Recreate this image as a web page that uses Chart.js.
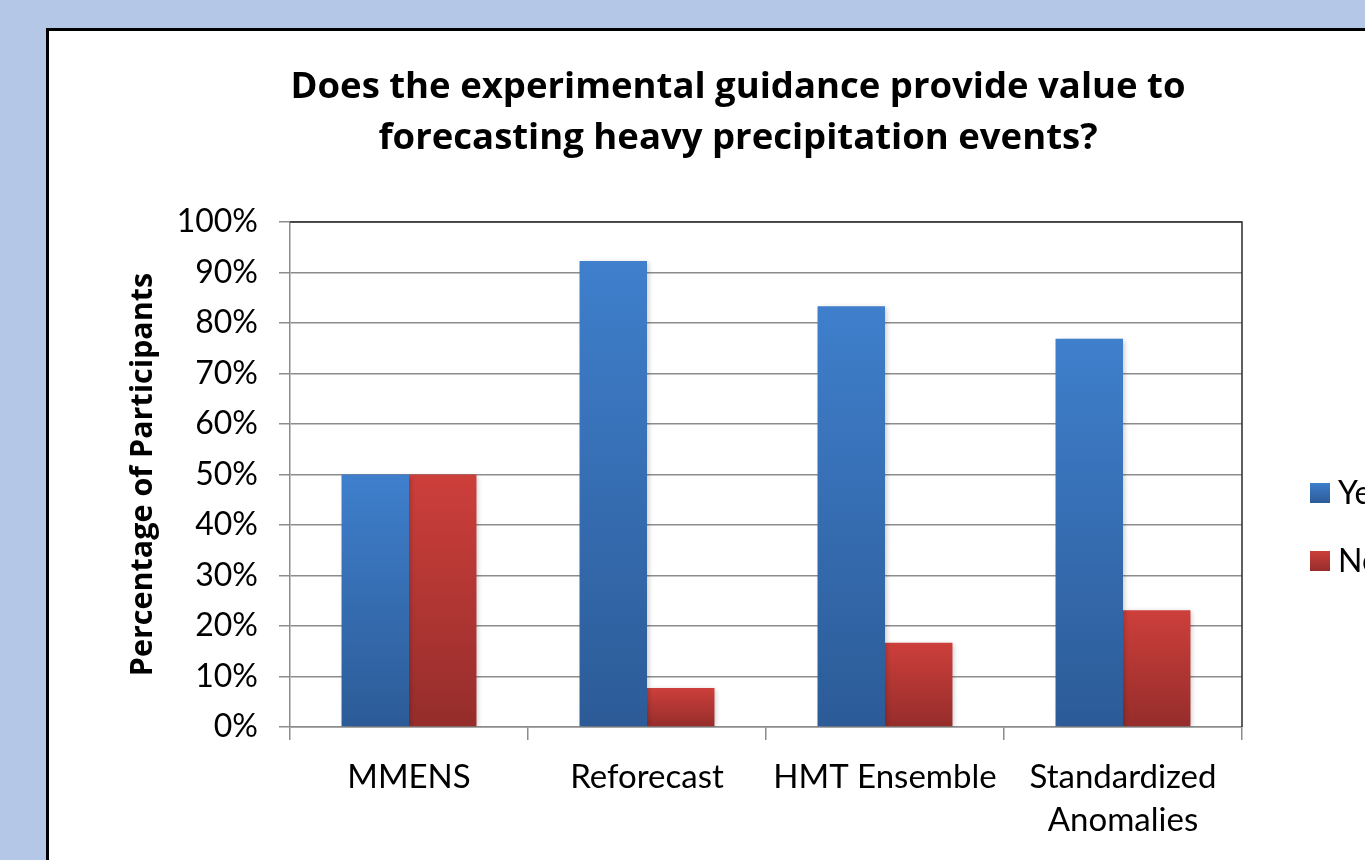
<!DOCTYPE html>
<html>
<head>
<meta charset="utf-8">
<title>Experimental guidance survey</title>
<script src="https://cdn.jsdelivr.net/npm/chart.js@4.4.1/dist/chart.umd.min.js"></script>
<style>
  html, body { margin: 0; padding: 0; }
  body {
    width: 1365px;
    height: 860px;
    overflow: hidden;
    background: #b4c7e7;
    position: relative;
  }
  #box {
    position: absolute;
    left: 46px;
    top: 28px;
    width: 1500px;
    height: 900px;
    border: 3px solid #000;
    background: #fff;
  }
  #surveyChart { display: block; }
</style>
</head>
<body>
<div id="box">
  <canvas id="surveyChart" width="1500" height="829"></canvas>
</div>
<script>
// Survey answers (percent of participants)
const categories = ['MMENS', 'Reforecast', 'HMT Ensemble', ['Standardized', 'Anomalies']];
const yesValues = [50, 92.3, 83.3, 76.9];
const noValues = [50, 7.7, 16.7, 23.1];
const yTicks = [0, 10, 20, 30, 40, 50, 60, 70, 80, 90, 100];
const titleLines = ['Does the experimental guidance provide value to',
                    'forecasting heavy precipitation events?'];

const FONT = 'Lato, Calibri, "Open Sans", sans-serif';
const BOLD_FONT = '"Open Sans", Calibri, Lato, sans-serif';

// gradient per bar, light at the top and dark at the base
function barGradient(top, bottom) {
    return (context) => {
        const chart = context.chart;
        if (!chart.chartArea || context.raw === undefined) return top;
        const y = chart.scales.y;
        const y0 = y.getPixelForValue(context.raw);
        const y1 = y.getPixelForValue(0);
        if (!isFinite(y0) || !isFinite(y1) || y0 === y1) return top;
        const g = chart.ctx.createLinearGradient(0, y0, 0, y1);
        g.addColorStop(0, top);
        g.addColorStop(1, bottom);
        return g;
    };
}

// chart title, centred a little left of the plot like the original
const chartTitle = {
    id: 'chartTitle',
    afterDraw(chart) {
        const ctx = chart.ctx;
        ctx.save();
        ctx.font = 'bold 36.5px ' + BOLD_FONT;
        ctx.fillStyle = '#000';
        ctx.textAlign = 'center';
        ctx.textBaseline = 'middle';
        titleLines.forEach((line, i) => {
            ctx.fillText(line, 689, 57 + i * 51);
        });
        ctx.restore();
    }
};

// soft shadow behind the bars
const barShadow = {
    id: 'barShadow',
    beforeDatasetsDraw(chart) {
        const ctx = chart.ctx;
        ctx.save();
        ctx.shadowColor = 'rgba(0, 0, 0, 0.22)';
        ctx.shadowBlur = 5;
        ctx.shadowOffsetX = 2;
        ctx.shadowOffsetY = 1;
    },
    afterDatasetsDraw(chart) {
        chart.ctx.restore();
    }
};

// dark top and right edge of the plot area
const plotFrame = {
    id: 'plotFrame',
    afterDatasetsDraw(chart) {
        const { ctx, chartArea: a } = chart;
        ctx.save();
        ctx.strokeStyle = '#2b2b2b';
        ctx.lineWidth = 1.5;
        ctx.beginPath();
        ctx.moveTo(a.left, a.top);
        ctx.lineTo(a.right, a.top);
        ctx.lineTo(a.right, a.bottom);
        ctx.stroke();
        ctx.restore();
    }
};

// legend on the right, drawn from the datasets
const sideLegend = {
    id: 'sideLegend',
    afterDraw(chart) {
        const ctx = chart.ctx;
        const x = 1261;
        const rows = [462, 530];
        ctx.save();
        ctx.font = '32px ' + FONT;
        ctx.textBaseline = 'middle';
        chart.data.datasets.forEach((ds, i) => {
            const cy = rows[i];
            const g = ctx.createLinearGradient(0, cy - 10, 0, cy + 10);
            g.addColorStop(0, ds.legendTop);
            g.addColorStop(1, ds.legendBottom);
            ctx.fillStyle = g;
            ctx.fillRect(x, cy - 10, 20, 20);
            ctx.fillStyle = '#000';
            ctx.fillText(ds.label, x + 28, cy + 1);
        });
        ctx.restore();
    }
};

const ctx = document.getElementById('surveyChart').getContext('2d');
const surveyChart = new Chart(ctx, {
    type: 'bar',
    data: {
        labels: categories,
        datasets: [{
            label: 'Yes',
            data: yesValues,
            backgroundColor: barGradient('#3f7fcc', '#2c5b97'),
            legendTop: '#3f7fcc',
            legendBottom: '#2c5b97'
        }, {
            label: 'No',
            data: noValues,
            backgroundColor: barGradient('#cd3f3b', '#952d2b'),
            legendTop: '#cd3f3b',
            legendBottom: '#952d2b'
        }]
    },
    options: {
        responsive: false,
        animation: false,
        devicePixelRatio: 1,
        layout: { padding: { left: 0, right: 307, top: 191, bottom: 0 } },
        datasets: {
            bar: { categoryPercentage: 0.567, barPercentage: 1.0 }
        },
        plugins: {
            legend: { display: false },
            tooltip: { enabled: false },
            title: { display: false }
        },
        scales: {
            x: {
                afterFit: (s) => { s.height = 133; },
                grid: {
                    drawOnChartArea: false,
                    drawTicks: true,
                    tickLength: 13,
                    color: '#8c8c8c',
                    lineWidth: 1.5
                },
                border: { color: '#8c8c8c', width: 1.5 },
                ticks: {
                    color: '#000',
                    padding: 15,
                    font: { family: FONT, size: 33, lineHeight: 1.33 },
                    maxRotation: 0,
                    autoSkip: false
                }
            },
            y: {
                min: 0,
                max: 100,
                afterFit: (s) => { s.width = 241; },
                afterBuildTicks: (s) => { s.ticks = yTicks.map(v => ({ value: v })); },
                grid: {
                    color: '#8c8c8c',
                    lineWidth: 1.5,
                    tickLength: 11
                },
                border: { color: '#8c8c8c', width: 1.5 },
                ticks: {
                    color: '#000',
                    padding: 21,
                    font: { family: FONT, size: 32 },
                    callback: (v) => v + '%'
                },
                title: {
                    display: true,
                    text: 'Percentage of Participants',
                    color: '#000',
                    font: { family: BOLD_FONT, size: 30.5, weight: 'bold', lineHeight: 1.2 },
                    padding: { top: 76, bottom: 0 }
                }
            }
        }
    },
    plugins: [chartTitle, barShadow, plotFrame, sideLegend]
});
</script>
</body>
</html>
